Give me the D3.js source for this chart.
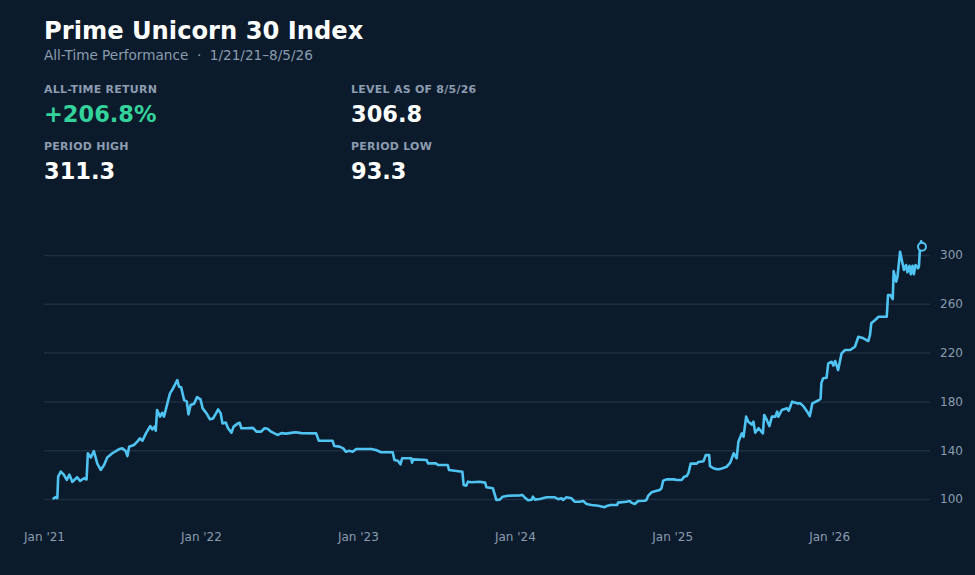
<!DOCTYPE html>
<html>
<head>
<meta charset="utf-8">
<title>Prime Unicorn 30 Index</title>
<script src="https://cdn.jsdelivr.net/npm/d3@7"></script>
<style>
    html, body { margin: 0; padding: 0; background: #0b1b2b; }
    svg { display: block; font-family: "DejaVu Sans", sans-serif; }
</style>
</head>
<body>
<div id="chart"></div>
<script>

// Index level readings (base 100 on 1/21/21)
var dates = [
    "2021-01-21","2021-01-28","2021-02-01","2021-02-03","2021-02-09","2021-02-16","2021-02-23","2021-03-01",
    "2021-03-08","2021-03-19","2021-03-26","2021-04-04","2021-04-10","2021-04-13","2021-04-20","2021-04-27",
    "2021-05-05","2021-05-13","2021-05-21","2021-05-28","2021-06-09","2021-06-24","2021-07-02","2021-07-10",
    "2021-07-14","2021-07-18","2021-07-29","2021-08-06","2021-08-12","2021-08-18","2021-08-26","2021-09-05",
    "2021-09-10","2021-09-15","2021-09-18","2021-09-21","2021-09-28","2021-10-03","2021-10-07","2021-10-13",
    "2021-10-21","2021-10-26","2021-11-01","2021-11-07","2021-11-11","2021-11-16","2021-11-23","2021-11-29",
    "2021-12-03","2021-12-08","2021-12-16","2021-12-23","2021-12-31",
    "2022-01-05","2022-01-14","2022-01-22","2022-01-29","2022-02-05","2022-02-10","2022-02-16","2022-02-20",
    "2022-02-28","2022-03-05","2022-03-13","2022-03-18","2022-03-28","2022-04-01","2022-04-05","2022-04-17",
    "2022-05-02","2022-05-10","2022-05-21","2022-05-29","2022-06-05","2022-06-13","2022-06-21","2022-06-29",
    "2022-07-07","2022-07-18","2022-08-03","2022-08-10","2022-08-22","2022-09-26","2022-10-02","2022-11-03",
    "2022-11-07","2022-11-19","2022-11-28","2022-12-04","2022-12-12","2022-12-20","2022-12-28",
    "2023-02-01","2023-02-12","2023-02-24","2023-03-23","2023-03-27","2023-04-04","2023-04-10","2023-04-14",
    "2023-05-05","2023-05-07","2023-05-10","2023-06-10","2023-06-13","2023-07-02","2023-07-06","2023-07-29",
    "2023-08-01","2023-08-14","2023-09-01","2023-09-04","2023-09-10","2023-09-14","2023-09-22","2023-10-11",
    "2023-10-24","2023-10-27","2023-11-11","2023-11-19","2023-11-27","2023-12-04","2023-12-16",
    "2024-01-12","2024-01-19","2024-01-24","2024-02-01","2024-02-09","2024-02-12","2024-02-17","2024-02-28",
    "2024-03-15","2024-04-03","2024-04-11","2024-04-19","2024-04-22","2024-04-30","2024-05-12","2024-05-19",
    "2024-05-31","2024-06-08","2024-06-16","2024-06-27","2024-07-13","2024-07-28","2024-08-02","2024-08-10",
    "2024-08-26","2024-08-28","2024-09-16","2024-09-24","2024-09-28","2024-10-06","2024-10-14","2024-10-29",
    "2024-11-02","2024-11-06","2024-11-14","2024-11-26","2024-12-03","2024-12-07","2024-12-11","2024-12-19",
    "2025-01-04","2025-01-12","2025-01-23","2025-01-29","2025-02-04","2025-02-08","2025-02-13","2025-02-27",
    "2025-03-03","2025-03-15","2025-03-20","2025-03-28","2025-03-30","2025-04-07","2025-04-15","2025-04-22",
    "2025-05-08","2025-05-16","2025-05-24","2025-05-31","2025-06-04","2025-06-12","2025-06-16","2025-06-22",
    "2025-06-27","2025-07-05","2025-07-09","2025-07-13","2025-07-21","2025-07-31","2025-08-03","2025-08-09",
    "2025-08-15","2025-08-21","2025-08-29","2025-09-02","2025-09-05","2025-09-13","2025-09-25","2025-09-29",
    "2025-10-07","2025-10-19","2025-10-26","2025-11-03","2025-11-11","2025-11-17","2025-11-23","2025-12-04",
    "2025-12-12","2025-12-14","2025-12-18","2025-12-26","2025-12-30",
    "2026-01-07","2026-01-11","2026-01-15","2026-01-22","2026-01-30","2026-02-07","2026-02-19","2026-03-02",
    "2026-03-10","2026-03-22","2026-04-02","2026-04-06","2026-04-09","2026-04-18","2026-04-26","2026-05-15",
    "2026-05-18","2026-05-23","2026-05-29","2026-05-31","2026-06-06","2026-06-09","2026-06-15","2026-06-19",
    "2026-06-24","2026-06-29","2026-07-02","2026-07-07","2026-07-10","2026-07-14","2026-07-17","2026-07-21",
    "2026-07-27","2026-07-29","2026-07-31","2026-08-03","2026-08-05"
];

var levels = [
    100, 101.5, 100.8, 118.3, 122.5, 120, 115.6, 120,
    114, 117.8, 114.8, 117, 116, 137.5, 134, 139.3,
    129, 123.8, 128, 134, 137.5, 140.7, 141.5, 139.3,
    135.2, 142.9, 144.3, 147, 149.7, 147.8, 153.8, 159.8,
    157, 159.3, 156, 173, 167.5, 170.7, 167.5, 175.7,
    186.6, 189.3, 193.4, 197.5, 192, 191.5, 181, 180,
    169.4, 177, 178, 183.5, 181.7,
    174.3, 170.2, 165.3, 166, 170.2, 173.5, 170.2, 162,
    162.6, 158, 154.4, 159.3, 162, 162.5, 158, 158,
    158.3, 155.2, 155.2, 158, 157.5, 155.2, 153.8, 152.5,
    154, 153.6, 154.4, 154.7, 154, 153.8, 147.8, 147.8,
    143.4, 142.9, 141.5, 138.8, 139.6, 138.8, 141,
    141, 140.2, 138.3, 138.3, 132, 131.4, 128.4, 133.4,
    133.4, 129.8, 132.5, 132, 129.2, 129.2, 127.9, 127.9,
    123.8, 123.2, 122.4, 111.5, 110.9, 114.2, 113.7, 114.2,
    113.4, 109.6, 108.8, 99.2, 99.5, 101.9, 102.7,
    103, 103.3, 101.2, 99, 99.4, 101.9, 99.5, 100,
    101.4, 101.4, 99.8, 100.6, 99.2, 101.4, 100.6, 97.8,
    97.8, 98.4, 95.9, 95.1, 94.5, 93.3, 94.3, 95.1,
    95.1, 97, 97.8, 98.4, 97, 95.9, 98.4, 98.6,
    99.2, 102.5, 105.5, 106.8, 107.4, 108.8, 115, 116.1,
    116.1, 115.6, 115.6, 118.3, 118.9, 121.5, 129, 129,
    130.3, 131, 136, 136, 127, 125.2, 124.4, 124.5,
    126.5, 129.8, 137.5, 133.4, 147, 153.8, 151, 167.5,
    163.4, 161, 163.4, 154.4, 158, 153.8, 168.9, 164.8,
    159.8, 167.5, 167.5, 171.6, 167.5, 173, 174.3, 172.4,
    179.8, 178.4, 178.4, 175.7, 171.6, 168, 178.4, 180.3,
    182, 195, 199, 199.4, 211.2,
    212.5, 209.3, 213.1, 205.7, 219.4, 222.1, 222.1, 224.8,
    233, 231.7, 229.5, 234.4, 244, 246.7, 249.4, 249.4,
    267.2, 267.2, 263.9, 286.9, 278.1, 282.2, 302.7, 295.9,
    287.7, 291.8, 285.8, 291.2, 284.2, 291.2, 284.2, 291.8,
    289.1, 291.2, 304.1, 311.3, 306.8
];

var yTicks = [100, 140, 180, 220, 260, 300];
var xTicks = ["2021-01-01", "2022-01-01", "2023-01-01", "2024-01-01", "2025-01-01", "2026-01-01"];

var colors = {
    bg: "#0b1b2b",
    grid: "#1c2f42",
    line: "#4fc3f2",
    muted: "#8a9bb0",
    label: "#8c9cb1",
    green: "#34d39c",
    white: "#ffffff"
};

var width = 975, height = 575;
var parseDate = d3.timeParse("%Y-%m-%d");
var fmtShort = d3.timeFormat("%-m/%-d/%y");

var data = dates.map(function (d, i) {
    return { date: parseDate(d), value: levels[i] };
});

var first = data[0], last = data[data.length - 1];

var svg = d3.select("#chart").append("svg")
    .attr("width", width)
    .attr("height", height);

svg.append("rect")
    .attr("width", width)
    .attr("height", height)
    .attr("fill", colors.bg);

// Header
svg.append("text")
    .attr("x", 44).attr("y", 39)
    .attr("fill", colors.white)
    .attr("font-size", 24.2)
    .attr("font-weight", "bold")
    .text("Prime Unicorn 30 Index");

svg.append("text")
    .attr("x", 44).attr("y", 60)
    .attr("fill", colors.muted)
    .attr("font-size", 13.6)
    .text("All-Time Performance \u00a0\u00b7\u00a0 " + fmtShort(first.date) + "\u2013" + fmtShort(last.date));

// Stat blocks
var stats = [
    { label: "ALL-TIME RETURN", value: "+" + d3.format(".1f")((last.value / first.value - 1) * 100) + "%", color: colors.green, x: 44, y: 92.5 },
    { label: "LEVEL AS OF " + fmtShort(last.date), value: d3.format(".1f")(last.value), color: colors.white, x: 351, y: 92.5 },
    { label: "PERIOD HIGH", value: d3.format(".1f")(d3.max(levels)), color: colors.white, x: 44, y: 150 },
    { label: "PERIOD LOW", value: d3.format(".1f")(d3.min(levels)), color: colors.white, x: 351, y: 150 }
];

var stat = svg.selectAll(".stat")
    .data(stats)
    .enter().append("g")
    .attr("class", "stat")
    .attr("transform", function (d) { return "translate(" + d.x + "," + d.y + ")"; });

stat.append("text")
    .attr("fill", colors.label)
    .attr("font-size", 11)
    .attr("font-weight", "bold")
    .attr("letter-spacing", 0.25)
    .text(function (d) { return d.label; });

stat.append("text")
    .attr("y", 29)
    .attr("fill", function (d) { return d.color; })
    .attr("font-size", 22.5)
    .attr("font-weight", "bold")
    .text(function (d) { return d.value; });

// Scales
var x = d3.scaleTime()
    .domain([parseDate("2021-01-01"), last.date])
    .range([44, 922]);

var y = d3.scaleLinear()
    .domain([80, 320])
    .range([523.4, 230.6]);

// Y grid + labels
var yAxis = svg.append("g")
    .attr("transform", "translate(44,0)")
    .call(d3.axisRight(y).tickValues(yTicks).tickSize(886).tickPadding(10));

yAxis.select(".domain").remove();
yAxis.selectAll(".tick line").attr("stroke", colors.grid).attr("stroke-width", 1.5);
yAxis.selectAll(".tick text")
    .attr("fill", colors.muted)
    .attr("font-size", 12)
    .attr("font-family", "DejaVu Sans, sans-serif");

// X labels
var fmtTick = d3.timeFormat("Jan '%y");
var xAxis = svg.append("g")
    .attr("transform", "translate(0,532.5)")
    .call(d3.axisBottom(x).tickValues(xTicks.map(parseDate)).tickFormat(fmtTick).tickSize(0).tickPadding(0));

xAxis.select(".domain").remove();
xAxis.selectAll(".tick text")
    .attr("fill", colors.muted)
    .attr("font-size", 12)
    .attr("font-family", "DejaVu Sans, sans-serif");

// Line
var line = d3.line()
    .x(function (d) { return x(d.date); })
    .y(function (d) { return y(d.value); });

svg.append("path")
    .datum(data)
    .attr("fill", "none")
    .attr("stroke", colors.line)
    .attr("stroke-width", 2.6)
    .attr("stroke-linejoin", "round")
    .attr("d", line);

// End marker
svg.append("circle")
    .attr("cx", x(last.date))
    .attr("cy", y(last.value))
    .attr("r", 4)
    .attr("fill", colors.bg)
    .attr("stroke", colors.line)
    .attr("stroke-width", 2);

</script>
</body>
</html>
